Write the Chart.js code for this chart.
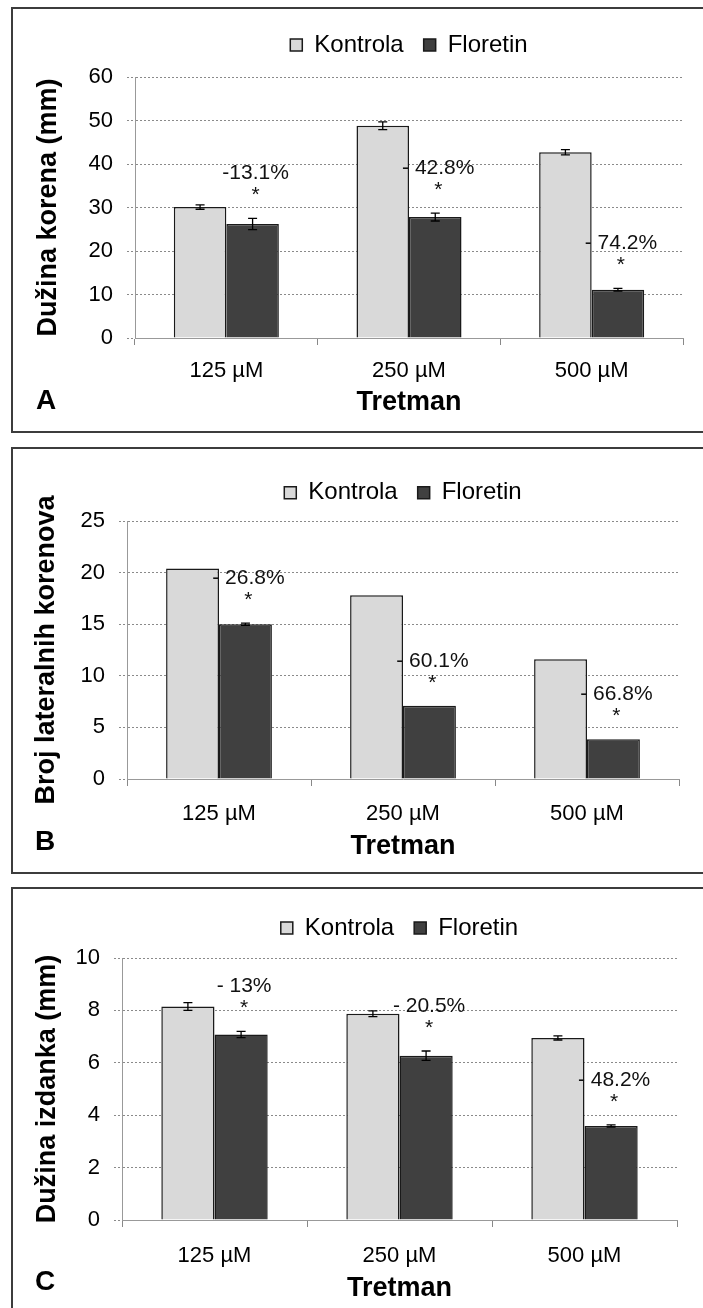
<!DOCTYPE html>
<html><head><meta charset="utf-8">
<script src="https://cdn.jsdelivr.net/npm/chart.js@4"></script>
<style>
html,body{margin:0;padding:0;background:#fff;}
body{width:703px;height:1308px;position:relative;overflow:hidden;font-family:"Liberation Sans",Arial,sans-serif;}
.box{position:absolute;border:2px solid #3c3c3c;box-sizing:border-box;}
.cv{position:absolute;left:0;}
.tag{position:absolute;font-weight:bold;font-size:28px;line-height:1;color:#000;}
</style></head><body>
<div class="box" style="left:11px;top:7px;width:710px;height:426px;"></div>
<div class="box" style="left:11px;top:447px;width:710px;height:427px;"></div>
<div class="box" style="left:11px;top:887px;width:710px;height:440px;"></div>
<canvas id="cA" class="cv" style="top:7px" width="703" height="426"></canvas>
<canvas id="cB" class="cv" style="top:447px" width="703" height="427"></canvas>
<canvas id="cC" class="cv" style="top:887px" width="703" height="421"></canvas>
<div class="tag" style="left:36px;top:386px;">A</div>
<div class="tag" style="left:35px;top:827px;">B</div>
<div class="tag" style="left:35px;top:1267px;">C</div>
<script>
// ---------- data ----------
const categories = ['125 µM', '250 µM', '500 µM'];
const seriesNames = ['Kontrola', 'Floretin'];
const xTitle = 'Tretman';

// Panel A – root length
const rootTitle = 'Dužina korena (mm)';
const rootKontrola = [30.1, 48.8, 42.7];
const rootKontrolaErr = [0.5, 0.9, 0.6];
const rootFloretin = [26.2, 27.8, 11.1];
const rootFloretinErr = [1.3, 0.9, 0.3];
const rootChange = ['-13.1%', '- 42.8%', '- 74.2%'];

// Panel B – number of lateral roots
const lateralTitle = 'Broj lateralnih korenova';
const lateralKontrola = [20.4, 17.8, 11.6];
const lateralKontrolaErr = [0, 0, 0];
const lateralFloretin = [15.0, 7.1, 3.85];
const lateralFloretinErr = [0.1, 0, 0];
const lateralChange = ['- 26.8%', '- 60.1%', '- 66.8%'];

// Panel C – shoot length
const shootTitle = 'Dužina izdanka (mm)';
const shootKontrola = [8.15, 7.87, 6.95];
const shootKontrolaErr = [0.15, 0.11, 0.08];
const shootFloretin = [7.08, 6.27, 3.59];
const shootFloretinErr = [0.12, 0.18, 0.04];
const shootChange = ['- 13%', '- 20.5%', '- 48.2%'];

// ---------- plugins ----------
const errorBars = {
  id: 'errorBars',
  afterDatasetsDraw(chart, args, opts) {
    const ctx = chart.ctx, ys = chart.scales.y;
    ctx.save();
    ctx.strokeStyle = opts.color; ctx.lineWidth = opts.width;
    chart.data.datasets.forEach((ds, di) => {
      const meta = chart.getDatasetMeta(di);
      meta.data.forEach((bar, i) => {
        const e = ds.errors[i];
        if (!e) return;
        const v = ds.data[i];
        const y1 = ys.getPixelForValue(v - e), y2 = ys.getPixelForValue(v + e);
        ctx.beginPath();
        ctx.moveTo(bar.x, y1); ctx.lineTo(bar.x, y2);
        ctx.moveTo(bar.x - opts.cap, y1); ctx.lineTo(bar.x + opts.cap, y1);
        ctx.moveTo(bar.x - opts.cap, y2); ctx.lineTo(bar.x + opts.cap, y2);
        ctx.stroke();
      });
    });
    ctx.restore();
  }
};
const changeLabels = {
  id: 'changeLabels',
  afterDatasetsDraw(chart, args, opts) {
    const ctx = chart.ctx, ys = chart.scales.y;
    const ds = chart.data.datasets[1], meta = chart.getDatasetMeta(1);
    ctx.save();
    ctx.fillStyle = opts.color;
    ctx.font = opts.size + 'px ' + Chart.defaults.font.family;
    ctx.textAlign = 'center'; ctx.textBaseline = 'alphabetic';
    opts.labels.forEach((t, i) => {
      const bar = meta.data[i];
      const top = ys.getPixelForValue(ds.data[i] + (ds.errors[i] || 0));
      ctx.fillText(t, bar.x + opts.dx, top - opts.labelRise);
      ctx.fillText('*', bar.x + opts.dx, top - opts.starRise);
    });
    ctx.restore();
  }
};

Chart.defaults.font.family = "'Liberation Sans', Arial, Helvetica, sans-serif";
Chart.defaults.color = '#000';

function makePanel(id, p) {
  new Chart(document.getElementById(id), {
    type: 'bar',
    data: {
      labels: categories,
      datasets: [
        {label: seriesNames[0], data: p.k, errors: p.kErr, backgroundColor: '#d9d9d9', borderColor: '#1a1a1a', borderWidth: 1.5,
         borderSkipped: 'start', categoryPercentage: 0.575, barPercentage: 1},
        {label: seriesNames[1], data: p.f, errors: p.fErr, backgroundColor: '#404040', borderColor: '#1a1a1a', borderWidth: 1.5,
         borderSkipped: 'start', categoryPercentage: 0.575, barPercentage: 1}
      ]
    },
    options: {
      responsive: false, animation: false, devicePixelRatio: 1,
      layout: {padding: {top: p.padTop, right: p.padRight, bottom: 0, left: 0}},
      plugins: {
        legend: {position: 'top', fullSize: false, weight: 1000,
          labels: {font: {size: 24}, color: '#000', boxWidth: 12, boxHeight: 12, padding: 20}},
        title: {display: true, text: '', weight: 500, font: {size: 2, lineHeight: 1}, padding: {top: 0, bottom: p.spacer - 2}},
        tooltip: {enabled: false},
        errorBars: {color: '#000', width: 1.3, cap: 4.5},
        changeLabels: {labels: p.change, color: '#111', size: 21, dx: 3, labelRise: 39, starRise: 17}
      },
      scales: {
        x: {
          grid: {display: true, drawOnChartArea: false, drawTicks: true, tickLength: 7, color: '#888', tickColor: '#888', offset: true},
          border: {display: true, color: '#999', width: 1},
          ticks: {font: {size: 22}, color: '#000', padding: p.tickPad},
          title: {display: true, text: xTitle, color: '#000', font: {size: 27, weight: 'bold'}, padding: {top: 0, bottom: p.xTitlePad}},
          afterFit(s) { s.height = p.xHeight; }
        },
        y: {
          min: 0, max: p.yMax,
          ticks: {stepSize: p.yStep, font: {size: 22}, color: '#000', padding: 14},
          grid: {color: '#8a8a8a', lineWidth: 1, drawTicks: true, tickLength: 8, tickColor: '#8a8a8a', tickBorderDash: [2, 2]},
          border: {display: true, color: '#999', width: 1, dash: [2, 2]},
          title: {display: true, text: p.yTitle, color: '#000', font: {size: 27, weight: 'bold'}, padding: {top: p.yTitlePad, bottom: 0}},
          afterFit(s) { s.width = p.yWidth; }
        }
      }
    },
    plugins: [errorBars, changeLabels]
  });
}

makePanel('cA', {k: rootKontrola, kErr: rootKontrolaErr, f: rootFloretin, fErr: rootFloretinErr, change: rootChange,
  yTitle: rootTitle, yMax: 60, yStep: 10,
  yWidth: 135, padTop: 6, padRight: 20, spacer: 10, xHeight: 95, tickPad: 13, xTitlePad: 14.5, yTitlePad: 32.5});
makePanel('cB', {k: lateralKontrola, kErr: lateralKontrolaErr, f: lateralFloretin, fErr: lateralFloretinErr, change: lateralChange,
  yTitle: lateralTitle, yMax: 25, yStep: 5,
  yWidth: 127, padTop: 13.7, padRight: 24, spacer: 6.3, xHeight: 95, tickPad: 15, xTitlePad: 11.5, yTitlePad: 30.5});
makePanel('cC', {k: shootKontrola, kErr: shootKontrolaErr, f: shootFloretin, fErr: shootFloretinErr, change: shootChange,
  yTitle: shootTitle, yMax: 10, yStep: 2,
  yWidth: 122, padTop: 9, padRight: 26, spacer: 8, xHeight: 88, tickPad: 16, xTitlePad: 3.5, yTitlePad: 31.5});
</script>
</body></html>
